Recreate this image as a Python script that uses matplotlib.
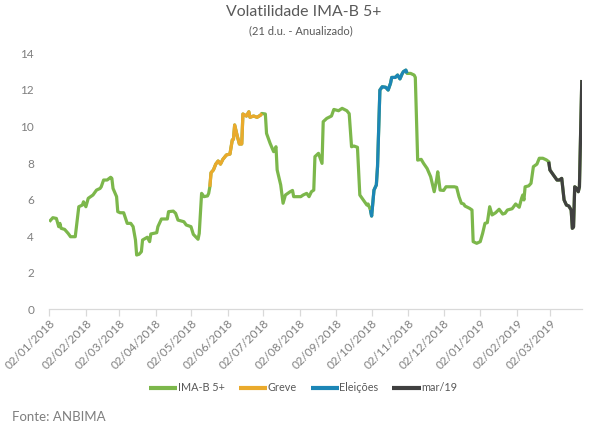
import matplotlib
matplotlib.use("Agg")
import matplotlib.pyplot as plt
import matplotlib.dates as mdates
import numpy as np
import pandas as pd

plt.rcParams['font.family'] = ['Lato', 'DejaVu Sans']

dates = [
    "2018-01-02", "2018-01-05", "2018-01-08", "2018-01-10", "2018-01-11", "2018-01-12",
    "2018-01-15", "2018-01-18", "2018-01-20", "2018-01-24", "2018-01-25", "2018-01-27",
    "2018-01-30", "2018-01-31", "2018-02-02", "2018-02-04", "2018-02-08", "2018-02-11",
    "2018-02-14", "2018-02-15", "2018-02-17", "2018-02-20", "2018-02-23", "2018-02-24",
    "2018-02-25", "2018-02-28", "2018-03-01", "2018-03-03", "2018-03-06", "2018-03-09",
    "2018-03-12", "2018-03-14", "2018-03-16", "2018-03-17", "2018-03-19", "2018-03-21",
    "2018-03-22", "2018-03-26", "2018-03-28", "2018-03-29", "2018-04-03", "2018-04-04",
    "2018-04-07", "2018-04-12", "2018-04-13", "2018-04-17", "2018-04-19", "2018-04-21",
    "2018-04-26", "2018-04-28", "2018-05-02", "2018-05-04", "2018-05-08", "2018-05-09",
    "2018-05-11", "2018-05-13", "2018-05-16", "2018-05-17", "2018-05-18", "2018-05-19",
    "2018-05-21", "2018-05-23", "2018-05-25", "2018-05-27", "2018-05-29", "2018-06-01",
    "2018-06-04", "2018-06-06", "2018-06-07", "2018-06-08", "2018-06-10", "2018-06-12",
    "2018-06-14", "2018-06-15", "2018-06-18", "2018-06-20", "2018-06-21", "2018-06-24",
    "2018-06-27", "2018-06-30", "2018-07-01", "2018-07-04", "2018-07-05", "2018-07-08",
    "2018-07-11", "2018-07-13", "2018-07-14", "2018-07-17", "2018-07-19", "2018-07-21",
    "2018-07-25", "2018-07-27", "2018-07-28", "2018-08-03", "2018-08-05", "2018-08-08",
    "2018-08-10", "2018-08-12", "2018-08-14", "2018-08-15", "2018-08-18", "2018-08-21",
    "2018-08-22", "2018-08-25", "2018-08-29", "2018-08-31", "2018-09-04", "2018-09-07",
    "2018-09-11", "2018-09-13", "2018-09-15", "2018-09-17", "2018-09-20", "2018-09-22",
    "2018-09-25", "2018-09-28", "2018-09-29", "2018-10-01", "2018-10-02", "2018-10-04",
    "2018-10-06", "2018-10-07", "2018-10-09", "2018-10-11", "2018-10-14", "2018-10-16",
    "2018-10-18", "2018-10-19", "2018-10-22", "2018-10-24", "2018-10-26", "2018-10-28",
    "2018-10-29", "2018-10-31", "2018-11-01", "2018-11-04", "2018-11-07", "2018-11-08",
    "2018-11-10", "2018-11-13", "2018-11-15", "2018-11-18", "2018-11-21", "2018-11-23",
    "2018-11-24", "2018-11-26", "2018-11-27", "2018-11-29", "2018-12-02", "2018-12-04",
    "2018-12-09", "2018-12-11", "2018-12-13", "2018-12-15", "2018-12-17", "2018-12-19",
    "2018-12-20", "2018-12-24", "2018-12-26", "2018-12-27", "2018-12-30", "2019-01-02",
    "2019-01-04", "2019-01-06", "2019-01-08", "2019-01-10", "2019-01-12", "2019-01-15",
    "2019-01-18", "2019-01-21", "2019-01-23", "2019-01-25", "2019-01-29", "2019-02-01",
    "2019-02-04", "2019-02-06", "2019-02-07", "2019-02-08", "2019-02-09", "2019-02-12",
    "2019-02-14", "2019-02-16", "2019-02-19", "2019-02-21", "2019-02-24", "2019-02-27",
    "2019-03-01", "2019-03-02", "2019-03-05", "2019-03-08", "2019-03-10", "2019-03-12",
    "2019-03-14", "2019-03-16", "2019-03-18", "2019-03-20", "2019-03-21", "2019-03-22",
    "2019-03-23", "2019-03-25", "2019-03-26", "2019-03-27", "2019-03-29",
]
volatility = [
    4.79, 5.01, 4.97, 4.52, 4.70, 4.43,
    4.37, 4.15, 3.97, 3.97, 4.52, 5.61,
    5.70, 5.88, 5.61, 6.07, 6.25, 6.52,
    6.61, 6.70, 7.07, 7.07, 7.22, 7.16,
    6.61, 6.16, 5.34, 5.28, 5.28, 4.70,
    4.70, 4.52, 3.79, 2.97, 3.01, 3.15,
    3.79, 3.94, 3.70, 4.12, 4.19, 4.52,
    4.94, 4.94, 5.34, 5.37, 5.25, 4.88,
    4.79, 4.61, 4.52, 4.10, 3.83, 4.15,
    6.34, 6.16, 6.20, 6.34, 6.70, 7.47,
    7.62, 7.94, 8.11, 7.94, 8.20, 8.44,
    8.49, 9.26, 9.30, 10.08, 9.53, 9.04,
    9.04, 10.68, 10.57, 10.80, 10.50, 10.57,
    10.50, 10.62, 10.71, 10.68, 9.62, 9.08,
    8.62, 8.89, 7.62, 6.80, 5.80, 6.25,
    6.43, 6.50, 6.16, 6.16, 6.25, 6.34,
    6.16, 6.43, 6.52, 8.35, 8.53, 7.98,
    10.26, 10.44, 10.57, 10.93, 10.86, 10.99,
    10.86, 10.70, 8.89, 8.93, 8.86, 6.25,
    5.98, 5.70, 5.76, 5.43, 5.10, 6.52,
    6.80, 7.80, 11.99, 12.17, 12.14, 11.99,
    12.36, 12.68, 12.68, 12.81, 12.60, 12.90,
    13.00, 13.08, 12.90, 12.90, 12.81, 12.68,
    8.16, 8.20, 7.98, 7.70, 7.25, 6.70,
    6.43, 7.07, 7.52, 6.52, 6.50, 6.70,
    6.70, 6.70, 6.67, 6.16, 5.80, 5.76,
    5.65, 5.52, 5.43, 3.70, 3.61, 3.70,
    4.15, 4.70, 4.74, 5.61, 5.16, 5.28,
    5.47, 5.21, 5.25, 5.43, 5.50, 5.76,
    5.58, 6.07, 6.25, 5.98, 6.70, 6.75,
    6.89, 7.80, 7.94, 8.26, 8.26, 8.17,
    8.07, 7.62, 7.34, 7.07, 7.07, 7.16,
    5.98, 5.70, 5.65, 5.43, 4.43, 4.50,
    6.70, 6.60, 6.43, 6.70, 12.54,
]

series_names = ["IMA-B 5+", "Greve", "Eleições", "mar/19"]
greve_period = ("2018-05-18", "2018-07-01")
eleicoes_period = ("2018-10-01", "2018-11-01")
mar19_period = ("2019-03-01", "2019-03-29")
tick_dates = ["2018-01-02", "2018-02-02", "2018-03-02", "2018-04-02", "2018-05-02",
              "2018-06-02", "2018-07-02", "2018-08-02", "2018-09-02", "2018-10-02",
              "2018-11-02", "2018-12-02", "2019-01-02", "2019-02-02", "2019-03-02"]

colors = ["#7CB74B", "#EAAA2C", "#1C86B6", "#404040"]

s = pd.Series(volatility, index=pd.to_datetime(dates))

fig = plt.figure(figsize=(5.93, 4.34), dpi=100)
ax = fig.add_axes([0.0831, 0.2873, 0.898, 0.5899])

lw = 2.3
ax.plot(s.index, s.values, color=colors[0], lw=lw, label=series_names[0],
        solid_joinstyle="round", solid_capstyle="butt")
for name, period, c in zip(series_names[1:], [greve_period, eleicoes_period, mar19_period], colors[1:]):
    seg = s.loc[period[0]:period[1]]
    ax.plot(seg.index, seg.values, color=c, lw=lw, label=name,
            solid_joinstyle="round", solid_capstyle="butt")

ax.set_ylim(0, 14)
ax.set_yticks(np.arange(0, 15, 2))
ax.set_xlim(s.index[0], s.index[-1])
ax.set_xticks(pd.to_datetime(tick_dates))
ax.xaxis.set_major_formatter(mdates.DateFormatter("%d/%m/%Y"))

for sp in ["top", "right", "left"]:
    ax.spines[sp].set_visible(False)
ax.spines["bottom"].set_color("#D9D9D9")
ax.spines["bottom"].set_linewidth(0.9)
ax.tick_params(axis="x", colors="#D9D9D9", length=5, width=0.9, labelcolor="#7F7F7F",
               labelsize=8.5, pad=1)
ax.tick_params(axis="y", length=0, labelcolor="#7F7F7F", labelsize=8.5, pad=11)
for lab in ax.get_xticklabels():
    lab.set_rotation(45)
    lab.set_ha("right")
    lab.set_va("top")
    lab.set_rotation_mode("anchor")

fig.text(0.512, 0.972, "Volatilidade IMA-B 5+", ha="center", va="center",
         fontsize=11.4, color="#595959")
fig.text(0.507, 0.930, "(21 d.u. - Anualizado)", ha="center", va="center",
         fontsize=8, color="#595959")

handles, labels = ax.get_legend_handles_labels()
leg = fig.legend(handles, labels, loc="center", bbox_to_anchor=(0.511, 0.106),
                 ncol=4, frameon=False, fontsize=7.8, handlelength=2.6,
                 handletextpad=0.05, columnspacing=1.3, labelcolor="#595959")
for h in leg.get_lines():
    h.set_linewidth(3)

fig.text(0.02, 0.039, "Fonte: ANBIMA", ha="left", va="center", fontsize=9.5,
         color="#7F7F7F")

fig.savefig("out.png", dpi=100)
